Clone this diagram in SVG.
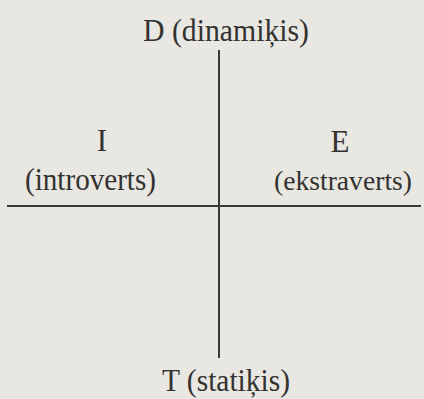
<svg xmlns="http://www.w3.org/2000/svg" width="424" height="399" viewBox="0 0 424 399">
<style>
text{font-family:"Liberation Serif","Times New Roman",serif;font-size:31px;fill:#333230}
.ax{stroke:#3a3937;stroke-width:2;fill:none}
</style>
<rect width="424" height="399" fill="#e8e7e2"/>
<g id="connectors">
<line class="ax" x1="219" y1="50" x2="219" y2="358"/>
<line class="ax" x1="7" y1="206" x2="421" y2="206"/>
</g>
<g id="D"><text x="143" y="41" textLength="166" lengthAdjust="spacingAndGlyphs">D (dinamiķis)</text></g>
<g id="I"><text x="102" y="151" text-anchor="middle">I</text>
<text x="25" y="190" textLength="131" lengthAdjust="spacingAndGlyphs">(introverts)</text></g>
<g id="E"><text x="340" y="152" text-anchor="middle">E</text>
<text x="274" y="190" style="font-size:28px" textLength="138" lengthAdjust="spacingAndGlyphs">(ekstraverts)</text></g>
<g id="T"><text x="162" y="391" textLength="128" lengthAdjust="spacingAndGlyphs">T (statiķis)</text></g>
</svg>
